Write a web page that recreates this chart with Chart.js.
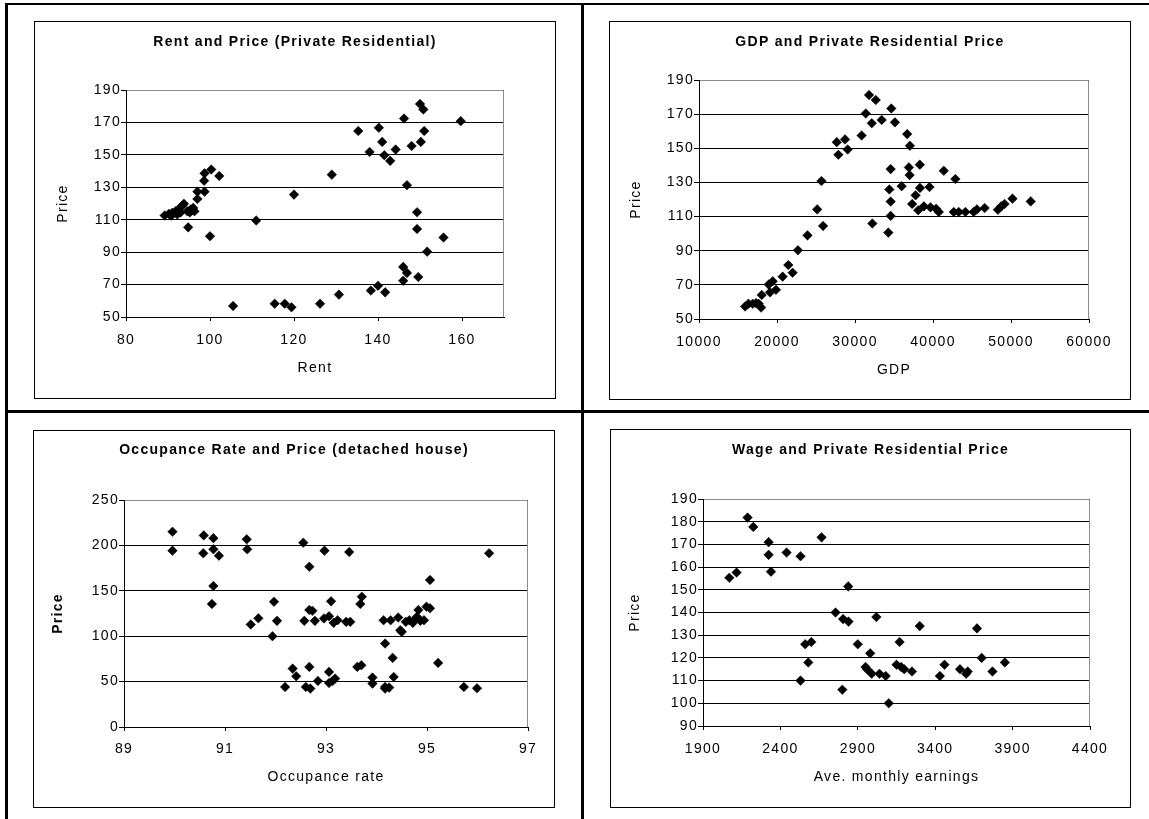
<!DOCTYPE html>
<html>
<head>
<meta charset="utf-8">
<script src="https://cdn.jsdelivr.net/npm/chart.js@4.4.0/dist/chart.umd.min.js"></script>
<style>
  body { margin: 0; background: #fff; width: 1149px; height: 819px; position: relative; overflow: hidden; }
  .rule { position: absolute; background: #000; }
  .box { position: absolute; border: 1px solid #000; box-sizing: border-box; background: #fff; }
  .box canvas { position: absolute; left: 0; top: 0; }
</style>
</head>
<body>
<div class="rule" style="left:5px;top:3px;width:1144px;height:2px"></div>
<div class="rule" style="left:5px;top:3px;width:3px;height:816px"></div>
<div class="rule" style="left:581px;top:3px;width:3px;height:816px"></div>
<div class="rule" style="left:5px;top:410px;width:1144px;height:3px"></div>

<div class="box" style="left:34px;top:21px;width:522px;height:378px"><canvas id="rentChart" width="520" height="376"></canvas></div>
<div class="box" style="left:609px;top:21px;width:522px;height:379px"><canvas id="gdpChart" width="520" height="377"></canvas></div>
<div class="box" style="left:33px;top:430px;width:522px;height:378px"><canvas id="occChart" width="520" height="376"></canvas></div>
<div class="box" style="left:610px;top:429px;width:521px;height:379px"><canvas id="wageChart" width="519" height="377"></canvas></div>

<script>
// Rent vs price
const rentX = [89.2, 90.2, 90.8, 91, 91.8, 92.2, 92.6, 93, 93.4, 93.8, 94.6, 95.2, 95.4, 96, 96.3, 94.8, 97, 97, 98.7, 98.6,
  98.7, 100.3, 102.2, 100, 111, 105.5, 115.4, 117.8, 119.4, 120, 126.2, 130.7, 138.3, 140, 141.7, 146, 146, 146.9, 149.6, 151.7,
  155.6, 149.3, 149.3, 146.9, 129, 135.3, 140.2, 141, 138, 141.5, 142.9, 144.2, 146.2, 148, 150.2, 151, 150, 150.8, 159.7];
const rentPrice = [112.6, 113.6, 112.5, 114.2, 115.2, 113.2, 116.7, 114.5, 118.7, 119.8, 115.2, 114.5, 116.3, 117.3, 115.2, 105.3, 122.8, 127.3, 127.3, 134,
  138.6, 141, 137, 99.8, 109.5, 56.8, 58.2, 58.2, 56, 125.5, 58.2, 63.8, 66.3, 69.3, 65.2, 72.4, 80.9, 77.2, 74.7, 90.3,
  99, 104.3, 114.6, 131.3, 137.8, 164.7, 166.7, 158, 151.8, 149.8, 146.3, 153.3, 172.4, 155.5, 158, 164.7, 181.4, 178, 170.8];

// GDP vs price
const gdpX = [15915, 16340, 16890, 17320, 17660, 17960, 18040, 18940, 19450, 19110, 19870, 20720, 22000, 21450, 22680, 23910, 25150, 25910, 25700, 27660,
  27870, 28720, 29060, 30850, 31380, 31800, 32660, 32150, 33420, 34650, 35120, 36690, 37040, 34570, 36910, 37000, 38310, 41380, 42870, 34400,
  35980, 38330, 39550, 37770, 34570, 37330, 38100, 38830, 39680, 40400, 40740, 42660, 43300, 44150, 45210, 45630, 46620, 48320, 48750, 49170,
  50190, 52530, 34570, 32220, 34270];
const gdpPrice = [57.3, 58.9, 58.9, 59.3, 58.9, 56.7, 64.1, 70.2, 72.1, 65.6, 67.1, 74.8, 77.1, 81.6, 90.3, 99, 114.2, 104.5, 130.8, 153.6,
  146.2, 155.2, 149.3, 157.5, 170.4, 181.2, 178.3, 164.7, 166.6, 173.3, 165.2, 158.3, 151.5, 137.8, 138.8, 134.3, 140.4, 136.8, 132, 125.9,
  127.8, 126.8, 127.3, 122.5, 118.8, 117.4, 113.7, 116, 115.4, 114.6, 112.7, 112.7, 112.7, 112.7, 112.7, 114.2, 115, 114, 116, 117.4,
  120.5, 118.9, 110.4, 105.9, 100.6];

// Occupance rate vs price (detached house)
const occX = [89.96, 89.96, 90.58, 90.77, 90.57, 90.77, 90.88, 90.77, 90.74, 91.43, 91.44, 91.97, 91.66, 92.55, 92.97, 92.67, 93.46, 96.23, 95.06, 93.1,
  93.71, 93.68, 92.67, 92.73, 94.83, 94.99, 95.06, 91.51, 91.94, 92.03, 92.19, 92.34, 92.41, 92.6, 92.67, 92.69, 92.84, 92.57, 92.78, 92.96,
  93.06, 93.15, 93.23, 93.06, 93.06, 93.13, 93.18, 93.4, 93.48, 93.62, 93.7, 93.92, 93.92, 94.14, 94.17, 94.17, 94.17, 94.25, 94.28, 94.32,
  94.34, 94.43, 94.47, 94.5, 94.58, 94.65, 94.72, 94.76, 94.8, 94.87, 94.94, 95.22, 95.73, 95.99];
const occPrice = [215, 194.2, 211, 208, 191.3, 195.7, 188.7, 155.3, 135.5, 206.7, 195.7, 138, 119.7, 203, 194.2, 176.5, 192.7, 191.3, 161.9, 138.4,
  143.5, 135.5, 128.9, 128, 128.9, 132.5, 130.7, 112.9, 100, 116.9, 44.1, 64.3, 55.9, 44.1, 66.2, 42.3, 50.7, 116.9, 116.9, 119.5,
  122, 114.7, 117.6, 60.7, 48.5, 50.7, 53.3, 115.8, 115.8, 66.2, 68, 54.4, 47.8, 117.6, 91.9, 44.1, 42.3, 43.4, 117.6, 76.1,
  55.1, 120.6, 106.6, 104.8, 115.8, 117.6, 114.7, 118.4, 121.3, 116.9, 117.6, 70.6, 44.1, 42.6];

// Wage vs price
const wageX = [2070, 2117, 2188, 2225, 2324, 2324, 2339, 2440, 2530, 2666, 2838, 2756, 2805, 2840, 2560, 2600, 2580, 2530, 2800, 2900,
  2950, 2960, 2980, 2990, 3020, 3040, 3080, 3100, 3150, 3170, 3180, 3200, 3250, 3300, 3430, 3460, 3560, 3600, 3610, 3670,
  3700, 3770, 3850];
const wagePrice = [155.3, 157.6, 181.8, 177.7, 171, 165.4, 158, 166.4, 164.8, 173.1, 151.5, 140, 137.1, 136, 126, 127, 118, 110, 106, 126,
  116, 115, 122, 113, 138, 113, 112, 100, 117, 127, 116, 115, 114, 134, 112, 117, 115, 113, 114, 133,
  120, 114, 118];

// axis ranges: [min, max, step]
const rentXAxis = [80, 170, 20], rentYAxis = [50, 190, 20];
const gdpXAxis = [10000, 60000, 10000], gdpYAxis = [50, 190, 20];
const occXAxis = [89, 97, 2], occYAxis = [0, 250, 50];
const wageXAxis = [1900, 4400, 500], wageYAxis = [90, 190, 10];

const FONT = '"Liberation Sans", Arial, sans-serif';

// wider glyph spacing, like the old spreadsheet render
const spacing = {
  id: 'spacing',
  beforeUpdate(chart) { chart.ctx.letterSpacing = '1.3px'; },
  beforeDraw(chart) { chart.ctx.letterSpacing = '1.3px'; }
};

// grey top and right edge of the plot area
const plotFrame = {
  id: 'plotFrame',
  beforeDatasetsDraw(chart) {
    const { ctx, chartArea: a } = chart;
    ctx.save();
    ctx.strokeStyle = '#8c8c8c';
    ctx.lineWidth = 1;
    ctx.beginPath();
    ctx.moveTo(Math.round(a.left) + 1, Math.round(a.top) + 0.5);
    ctx.lineTo(Math.round(a.right) - 0.5, Math.round(a.top) + 0.5);
    ctx.lineTo(Math.round(a.right) - 0.5, Math.round(a.bottom));
    ctx.stroke();
    ctx.restore();
  }
};

function scatter(id, o) {
  const points = o.xs.map((x, i) => ({ x: x, y: o.ys[i] }));
  return new Chart(document.getElementById(id), {
    type: 'scatter',
    data: {
      datasets: [{
        data: points,
        pointStyle: 'rectRot',
        pointRadius: 4.8,
        pointHoverRadius: 4.8,
        backgroundColor: '#000',
        borderColor: '#000',
        borderWidth: 0.5
      }]
    },
    options: {
      responsive: false,
      animation: false,
      events: [],
      layout: { padding: 0 },
      plugins: {
        legend: { display: false },
        tooltip: { enabled: false },
        title: {
          display: true,
          text: o.title,
          color: '#000',
          font: { family: FONT, size: 14, weight: 'bold' },
          padding: { top: o.titleTop, bottom: o.titleBottom }
        }
      },
      scales: {
        x: {
          type: 'linear',
          position: 'bottom',
          min: o.xAxis[0],
          max: o.xAxis[1],
          afterFit: s => { s.height = o.xHeight; },
          ticks: {
            stepSize: o.xAxis[2], includeBounds: false, autoSkip: false, maxRotation: 0,
            color: '#000', font: { family: FONT, size: 14 }, padding: o.xTickPad,
            callback: v => String(v)
          },
          grid: { drawOnChartArea: false, drawTicks: true, tickLength: 4, color: '#000' },
          border: { color: '#000', width: 1 },
          title: {
            display: true, text: o.xTitle, color: '#000',
            font: { family: FONT, size: 14 },
            padding: { top: 0, bottom: o.xTitlePad }
          }
        },
        y: {
          type: 'linear',
          min: o.yAxis[0],
          max: o.yAxis[1],
          afterFit: s => { s.width = o.yWidth; },
          ticks: {
            stepSize: o.yAxis[2], includeBounds: false, autoSkip: false,
            color: '#000', font: { family: FONT, size: 14 }, padding: 0,
            callback: v => String(v)
          },
          grid: { color: '#000', drawTicks: true, tickLength: 5 },
          border: { color: '#000', width: 1 },
          title: {
            display: true, text: 'Price', color: '#000',
            font: { family: FONT, size: 14, weight: o.yBold ? 'bold' : 'normal' },
            padding: { top: o.yTitlePad, bottom: 0 }
          }
        },
        // empty strip on the right so the title stays centred in the box
        gap: {
          type: 'linear',
          position: 'right',
          grid: { display: false },
          ticks: { display: false },
          border: { display: false },
          afterFit: s => { s.width = o.padRight; }
        }
      }
    },
    plugins: [spacing, plotFrame]
  });
}

scatter('rentChart', {
  xs: rentX, ys: rentPrice, xAxis: rentXAxis, yAxis: rentYAxis,
  title: 'Rent and Price (Private Residential)', xTitle: 'Rent',
  padRight: 51, yWidth: 91, xHeight: 81, titleTop: 11.6, titleBottom: 39.6,
  xTickPad: 10.6, xTitlePad: 21.6, yTitlePad: 19.6
});

scatter('gdpChart', {
  xs: gdpX, ys: gdpPrice, xAxis: gdpXAxis, yAxis: gdpYAxis,
  title: 'GDP and Private Residential Price', xTitle: 'GDP',
  padRight: 41, yWidth: 89, xHeight: 80, titleTop: 11.6, titleBottom: 29.6,
  xTickPad: 10.6, xTitlePad: 20.6, yTitlePad: 17.6
});

scatter('occChart', {
  xs: occX, ys: occPrice, xAxis: occXAxis, yAxis: occYAxis,
  title: 'Occupance Rate and Price (detached house)', xTitle: 'Occupance rate',
  padRight: 26, yWidth: 90, xHeight: 80, titleTop: 10.6, titleBottom: 41.6,
  xTickPad: 9.6, xTitlePad: 21.6, yTitlePad: 15.6, yBold: true
});

scatter('wageChart', {
  xs: wageX, ys: wagePrice, xAxis: wageXAxis, yAxis: wageYAxis,
  title: 'Wage and Private Residential Price', xTitle: 'Ave. monthly earnings',
  padRight: 40, yWidth: 92, xHeight: 81, titleTop: 11.6, titleBottom: 40.6,
  xTickPad: 10.6, xTitlePad: 21.6, yTitlePad: 15.6
});
</script>
</body>
</html>
